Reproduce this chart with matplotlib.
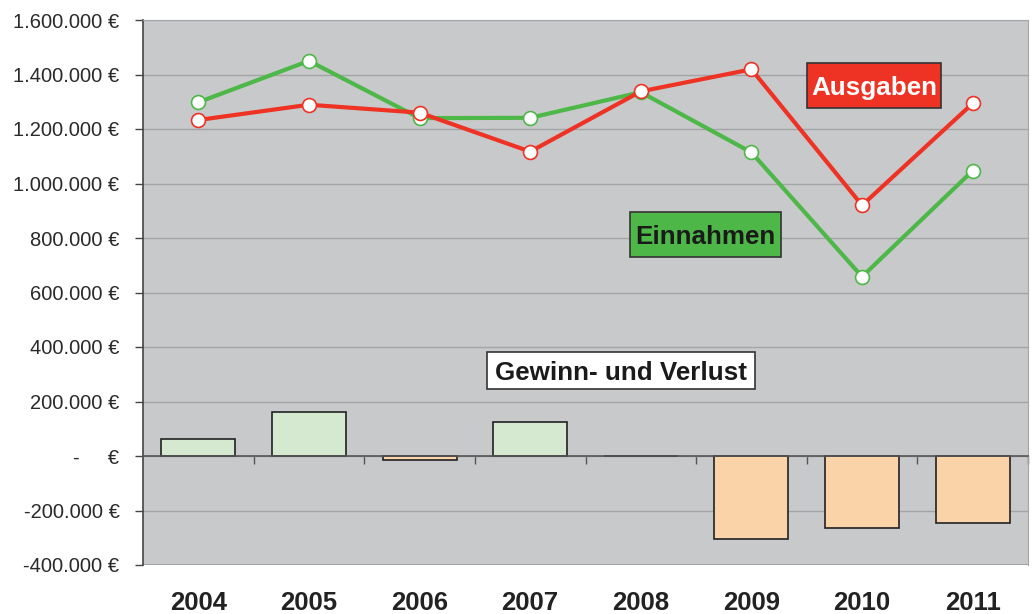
import matplotlib
matplotlib.use("Agg")
import matplotlib.pyplot as plt
import matplotlib.transforms as mtransforms
from matplotlib.patches import Rectangle
from matplotlib.ticker import FuncFormatter, FixedLocator

plt.rcParams['font.family'] = ['Liberation Sans', 'DejaVu Sans']

# ---- data ----
years = ['2004', '2005', '2006', '2007', '2008', '2009', '2010', '2011']
einnahmen = [1298000, 1450000, 1240000, 1241000, 1335000, 1114000, 658000, 1047000]
ausgaben = [1233000, 1289000, 1260000, 1117000, 1338000, 1419000, 920000, 1294000]
gewinn = [63000, 161000, -15000, 126000, 0, -306000, -263000, -247000]
y_ticks = [-400000, -200000, 0, 200000, 400000, 600000, 800000, 1000000,
           1200000, 1400000, 1600000]

# ---- styling ----
GREEN = '#4DB848'
RED = '#EE3325'
BG = '#C8C9CB'
GRID = '#A3A4A6'

fig = plt.figure(figsize=(10.32, 6.14), dpi=100)
W, H = 1032, 614
AX_L, AX_R, AX_T, AX_B = 143, 1028, 20, 565
ax = fig.add_axes([AX_L / W, 1 - AX_B / H, (AX_R - AX_L) / W, (AX_B - AX_T) / H])
ax.set_facecolor(BG)

x = list(range(len(years)))

ax.set_xlim(-0.5, len(years) - 0.5)
ax.set_ylim(y_ticks[0], y_ticks[-1])
ax.yaxis.set_major_locator(FixedLocator(y_ticks))


def fmt(v, pos):
    if v == 0:
        return '-     €'
    s = f'{int(v):,}'.replace(',', '.')
    return s + ' €'


ax.yaxis.set_major_formatter(FuncFormatter(fmt))
ax.tick_params(axis='y', direction='out', length=6, width=1, color='#444444',
               labelsize=14.5, labelcolor='#2a2a2a', pad=11)
ax.grid(axis='y', color=GRID, linewidth=1)
ax.set_axisbelow(True)

# bottom spine moved to zero line with tick marks at category boundaries
ax.spines['bottom'].set_position(('data', 0))
ax.spines['bottom'].set_color('#555555')
ax.spines['bottom'].set_linewidth(1.2)
ax.xaxis.set_major_locator(FixedLocator([i + 0.5 for i in x]))
ax.tick_params(axis='x', direction='out', length=6, width=1, color='#555555',
               labelbottom=False)
ax.spines['left'].set_color('#444444')
ax.spines['left'].set_linewidth(1.2)
ax.spines['top'].set_color(GRID)
ax.spines['right'].set_color(GRID)
ax.axhline(y_ticks[0], color=GRID, linewidth=1.5, zorder=0.5)

# bars
bar_colors = ['#D5E8D0' if g >= 0 else '#FAD3A8' for g in gewinn]
ax.bar(x, gewinn, width=0.67, color=bar_colors, edgecolor='#222222',
       linewidth=1.2, zorder=2)

# lines
ax.plot(x, einnahmen, color=GREEN, linewidth=3, marker='o', markersize=10,
        markerfacecolor='white', markeredgecolor=GREEN, markeredgewidth=1.2,
        zorder=3)
ax.plot(x, ausgaben, color=RED, linewidth=3, marker='o', markersize=10,
        markerfacecolor='white', markeredgecolor=RED, markeredgewidth=1.2,
        zorder=4)

# category labels
trans = mtransforms.blended_transform_factory(ax.transData, fig.transFigure)
for i, yr in zip(x, years):
    ax.text(i, 1 - 603 / H, yr, transform=trans, ha='center', va='center',
            fontsize=18.5, fontweight='bold', color='#222222')


# annotation boxes (pixel extents in the figure)
def label_box(x0, y0, x1, y1, text, face, tcolor):
    fx0, fx1 = x0 / W, x1 / W
    fy0, fy1 = 1 - y1 / H, 1 - y0 / H
    fig.add_artist(Rectangle((fx0, fy0), fx1 - fx0, fy1 - fy0,
                             transform=fig.transFigure, facecolor=face,
                             edgecolor='#333333', linewidth=1.2, zorder=5))
    fig.text((fx0 + fx1) / 2, (fy0 + fy1) / 2, text, ha='center',
             va='center_baseline', fontsize=18.7, fontweight='bold',
             color=tcolor, zorder=6)


label_box(807, 63, 941, 108, 'Ausgaben', RED, 'white')
label_box(630, 212, 781, 257, 'Einnahmen', GREEN, '#1a1a1a')
label_box(487, 352, 755, 389, 'Gewinn- und Verlust', 'white', '#1a1a1a')

fig.savefig('out.png', dpi=100, facecolor='white')
